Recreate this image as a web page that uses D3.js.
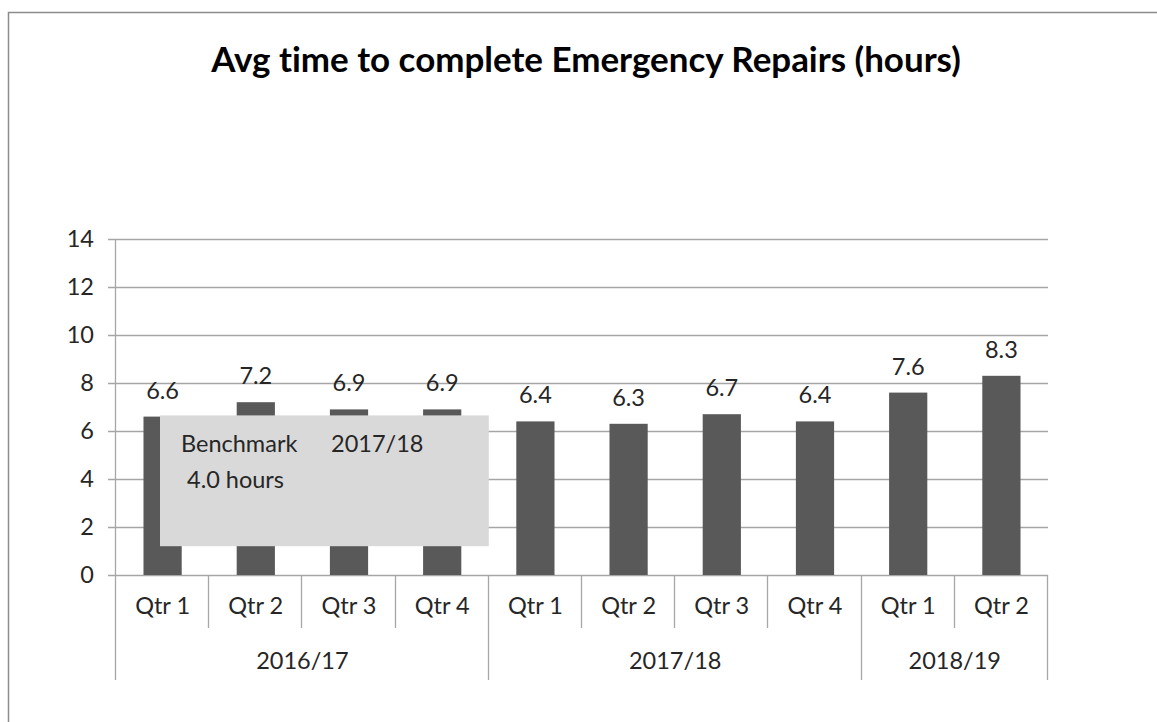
<!DOCTYPE html>
<html>
<head>
<meta charset="utf-8">
<script src="https://cdn.jsdelivr.net/npm/d3@7"></script>
<style>
  html, body { margin: 0; padding: 0; background: #fff; }
  svg { display: block; font-family: Lato, "Open Sans", sans-serif; font-variant-ligatures: none; }
</style>
</head>
<body>
<div id="chart"></div>
<script>
const quarters = ['Qtr 1', 'Qtr 2', 'Qtr 3', 'Qtr 4', 'Qtr 1', 'Qtr 2', 'Qtr 3', 'Qtr 4', 'Qtr 1', 'Qtr 2'];
const years = ['2016/17', '2016/17', '2016/17', '2016/17', '2017/18', '2017/18', '2017/18', '2017/18', '2018/19', '2018/19'];
const values = [6.6, 7.2, 6.9, 6.9, 6.4, 6.3, 6.7, 6.4, 7.6, 8.3];
const yTicks = [0, 2, 4, 6, 8, 10, 12, 14];
const title = 'Avg time to complete Emergency Repairs (hours)';
const noteLine1 = ['Benchmark', '2017/18'];
const noteLine2 = '4.0 hours';

const W = 1157, H = 722;
const plot = { left: 116, right: 1048, top: 239, bottom: 575 };
const lineColor = '#a6a6a6';
const barColor = '#595959';
const textColor = '#262626';
const fontSize = '23.5px';

const svg = d3.select('#chart')
    .append('svg')
    .attr('width', W)
    .attr('height', H);

svg.append('rect').attr('width', W).attr('height', H).attr('fill', '#fff');

// outer chart border (only top and left visible in the frame)
svg.append('rect')
    .attr('x', 8.5).attr('y', 12.5)
    .attr('width', W + 20).attr('height', H + 20)
    .attr('fill', 'none')
    .attr('stroke', '#8c8c8c')
    .attr('stroke-width', 1.5);

// title, sized to fit its width in the reference
const titleText = svg.append('text')
    .attr('x', 586)
    .attr('y', 72)
    .attr('text-anchor', 'middle')
    .style('font-weight', 'bold')
    .style('font-size', '30px')
    .style('fill', '#000')
    .text(title);
const tw = titleText.node().getComputedTextLength();
titleText.style('font-size', (30 * 750 / tw) + 'px');

const idx = values.map((d, i) => i);

const x = d3.scaleBand()
    .domain(idx)
    .range([plot.left, plot.right])
    .padding(0);

const y = d3.scaleLinear()
    .domain([0, 14])
    .range([plot.bottom, plot.top]);

// gridlines and y tick labels
svg.append('g')
    .selectAll('line')
    .data(yTicks)
    .enter()
    .append('line')
    .attr('x1', plot.left - 8)
    .attr('x2', plot.right)
    .attr('y1', d => Math.round(y(d)) + 0.5)
    .attr('y2', d => Math.round(y(d)) + 0.5)
    .attr('stroke', lineColor)
    .attr('stroke-width', 1.3);

svg.append('g')
    .selectAll('text')
    .data(yTicks)
    .enter()
    .append('text')
    .attr('x', 94)
    .attr('y', d => y(d))
    .attr('dy', '0.35em')
    .attr('text-anchor', 'end')
    .style('font-size', fontSize)
    .style('fill', textColor)
    .text(d => d);

// y axis line
svg.append('line')
    .attr('x1', plot.left - 0.5).attr('x2', plot.left - 0.5)
    .attr('y1', plot.top).attr('y2', plot.bottom)
    .attr('stroke', lineColor)
    .attr('stroke-width', 1.3);

// bars
const barW = x.bandwidth() * 0.41;
svg.selectAll('.bar')
    .data(values)
    .enter()
    .append('rect')
    .attr('class', 'bar')
    .attr('x', (d, i) => x(i) + (x.bandwidth() - barW) / 2)
    .attr('y', d => y(d))
    .attr('width', barW)
    .attr('height', d => y(0) - y(d))
    .attr('fill', barColor);

// value labels
svg.selectAll('.val')
    .data(values)
    .enter()
    .append('text')
    .attr('class', 'val')
    .attr('x', (d, i) => x(i) + x.bandwidth() / 2)
    .attr('y', d => y(d) - 18)
    .attr('text-anchor', 'middle')
    .style('font-size', fontSize)
    .style('fill', textColor)
    .text(d => d.toFixed(1));

// category axis: separators
const groupStart = idx.filter(i => i === 0 || years[i] !== years[i - 1]);
const edges = d3.range(values.length + 1);
svg.append('g')
    .selectAll('line')
    .data(edges)
    .enter()
    .append('line')
    .attr('x1', k => Math.round(k < values.length ? x(k) : plot.right) - 0.5)
    .attr('x2', k => Math.round(k < values.length ? x(k) : plot.right) - 0.5)
    .attr('y1', plot.bottom)
    .attr('y2', k => (k === values.length || groupStart.includes(k)) ? 680 : 628)
    .attr('stroke', lineColor)
    .attr('stroke-width', 1.3);

svg.append('g')
    .selectAll('text')
    .data(quarters)
    .enter()
    .append('text')
    .attr('x', (d, i) => x(i) + x.bandwidth() / 2)
    .attr('y', 606)
    .attr('dy', '0.35em')
    .attr('text-anchor', 'middle')
    .style('font-size', fontSize)
    .style('fill', textColor)
    .text(d => d);

const groups = Array.from(d3.group(idx, i => years[i]), ([k, v]) => ({ year: k, first: v[0], last: v[v.length - 1] }));
svg.append('g')
    .selectAll('text')
    .data(groups)
    .enter()
    .append('text')
    .attr('x', g => (x(g.first) + x(g.last) + x.bandwidth()) / 2)
    .attr('y', 661)
    .attr('dy', '0.35em')
    .attr('text-anchor', 'middle')
    .style('font-size', fontSize)
    .style('fill', textColor)
    .text(g => g.year);

// benchmark note box
const boxX0 = x(0) + 44, boxX1 = x(4);
const boxY0 = y(6.65), boxY1 = y(1.2);
const note = svg.append('g');
note.append('rect')
    .attr('x', boxX0)
    .attr('y', boxY0)
    .attr('width', boxX1 - boxX0)
    .attr('height', boxY1 - boxY0)
    .attr('fill', '#d9d9d9');
note.append('text')
    .attr('x', boxX0 + 21)
    .attr('y', boxY0 + 37)
    .style('font-size', fontSize)
    .style('fill', textColor)
    .text(noteLine1[0]);
note.append('text')
    .attr('x', boxX0 + 171)
    .attr('y', boxY0 + 37)
    .style('font-size', fontSize)
    .style('fill', textColor)
    .text(noteLine1[1]);
note.append('text')
    .attr('x', boxX0 + 27)
    .attr('y', boxY0 + 73)
    .style('font-size', fontSize)
    .style('fill', textColor)
    .text(noteLine2);
</script>
</body>
</html>
